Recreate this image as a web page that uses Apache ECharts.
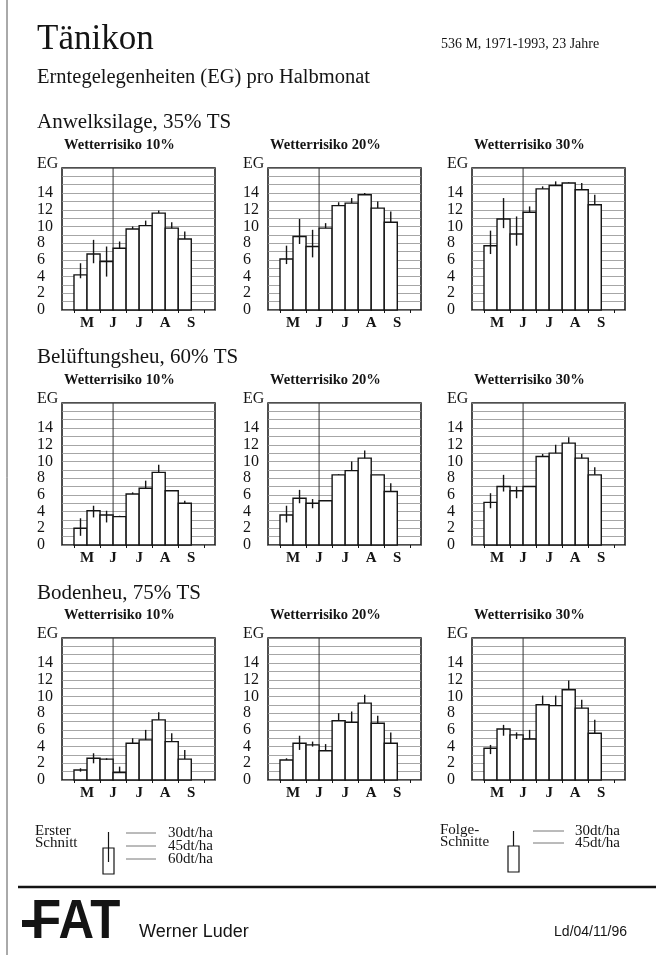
<!DOCTYPE html>
<html>
<head>
<meta charset="utf-8">
<script src="https://cdn.jsdelivr.net/npm/echarts@6/dist/echarts.min.js"></script>
<style>
html,body{margin:0;padding:0;background:#fff;}
#chart{width:660px;height:955px;}
</style>
</head>
<body>
<div id="chart"></div>
<script>
// ---------- data ----------
const monthLabels = ['M', 'J', 'J', 'A', 'S'];
const monthCenters = [1, 3, 5, 7, 9];
const monthEdges = [0, 2, 4, 6, 8, 10];
const yTickLabels = [0, 2, 4, 6, 8, 10, 12, 14];
const cutDivider = 3; // Erster Schnitt | Folge-Schnitte

const sectionTitles = ['Anwelksilage, 35% TS', 'Belüftungsheu, 60% TS', 'Bodenheu, 75% TS'];
const riskTitles = ['Wetterrisiko 10%', 'Wetterrisiko 20%', 'Wetterrisiko 30%'];

// bar = 45 dt/ha, hi = 30 dt/ha, lo = 60 dt/ha (first cut only)
const silage10   = [4.2, 6.7, 5.8, 7.4, 9.7, 10.1, 11.6, 9.8, 8.5];
const silage10Hi = [5.6, 8.4, 7.6, 8.2, 10.0, 10.7, 11.9, 10.5, 9.4];
const silage10Lo = [3.8, 5.6, 4.0];
const silage20   = [6.1, 8.8, 7.6, 9.8, 12.5, 12.8, 13.8, 12.2, 10.5];
const silage20Hi = [7.7, 10.9, 9.6, 10.4, 12.9, 13.4, 14.0, 13.0, 11.8];
const silage20Lo = [5.5, 7.9, 6.3];
const silage30   = [7.7, 10.9, 9.1, 11.7, 14.5, 14.9, 15.2, 14.4, 12.6];
const silage30Hi = [9.5, 13.4, 11.2, 12.4, 14.8, 15.4, 15.3, 15.2, 13.8];
const silage30Lo = [6.7, 9.8, 7.7];

const hay10   = [2.0, 4.1, 3.6, 3.4, 6.1, 6.8, 8.7, 6.5, 5.0];
const hay10Hi = [3.2, 4.7, 4.1, 3.5, 6.3, 7.7, 9.6, 6.5, 5.3];
const hay10Lo = [1.1, 3.3, 2.7];
const hay20   = [3.6, 5.6, 5.0, 5.3, 8.4, 8.9, 10.4, 8.4, 6.4];
const hay20Hi = [4.7, 6.6, 5.5, 5.3, 8.5, 10.0, 11.3, 8.4, 7.4];
const hay20Lo = [2.7, 5.0, 4.4];
const hay30   = [5.1, 7.0, 6.5, 7.0, 10.6, 11.0, 12.2, 10.4, 8.4];
const hay30Hi = [6.2, 8.4, 7.0, 7.0, 10.9, 12.0, 12.9, 10.9, 9.3];
const hay30Lo = [4.4, 6.4, 5.6];

const ground10   = [1.2, 2.6, 2.5, 0.9, 4.4, 4.8, 7.2, 4.6, 2.5];
const ground10Hi = [1.4, 3.2, 2.6, 1.6, 5.0, 6.0, 8.1, 5.6, 3.6];
const ground10Lo = [1.0, 2.0, 2.4];
const ground20   = [2.4, 4.4, 4.2, 3.5, 7.1, 6.9, 9.2, 6.8, 4.4];
const ground20Hi = [2.6, 5.3, 4.6, 4.3, 8.0, 8.2, 10.2, 7.7, 5.7];
const ground20Lo = [2.4, 3.6, 4.0];
const ground30   = [3.8, 6.1, 5.4, 4.9, 9.0, 8.9, 10.8, 8.6, 5.6];
const ground30Hi = [4.2, 6.6, 5.7, 6.0, 10.1, 10.1, 11.9, 9.6, 7.2];
const ground30Lo = [3.1, 5.3, 4.9];

const panelData = [
  [silage10, silage10Hi, silage10Lo], [silage20, silage20Hi, silage20Lo], [silage30, silage30Hi, silage30Lo],
  [hay10, hay10Hi, hay10Lo], [hay20, hay20Hi, hay20Lo], [hay30, hay30Hi, hay30Lo],
  [ground10, ground10Hi, ground10Lo], [ground20, ground20Hi, ground20Lo], [ground30, ground30Hi, ground30Lo]
];

// ---------- layout ----------
const colLeft = [62, 268, 472];
const rowTop = [168, 403, 638];
const gridW = 153, gridH = 142;
const yMax = 17, xMin = -0.92, xMax = 10.82;
const SERIF = '"Liberation Serif", "DejaVu Serif", serif';
const SANS = '"Liberation Sans", Arial, sans-serif';
const INK = '#141414';

const grids = [], xAxes = [], yAxes = [], series = [], graphics = [];

function txt(x, y, text, size, opts) {
  opts = opts || {};
  graphics.push({
    type: 'text', x: x, y: y, silent: true,
    scaleX: opts.scaleX || 1,
    style: {
      text: text,
      font: (opts.weight || 'normal') + ' ' + size + 'px ' + (opts.family || SERIF),
      fill: opts.fill || INK,
      textAlign: opts.align || 'left',
      textVerticalAlign: 'middle'
    }
  });
}

function renderBar(params, api) {
  const i = api.value(0), v = api.value(1), hi = api.value(2), lo = api.value(3);
  const p0 = api.coord([i, 0]);
  const p1 = api.coord([i + 1, v]);
  const cx = api.coord([i + 0.5, 0])[0];
  const yHi = api.coord([i, hi])[1];
  const yLo = api.coord([i, lo])[1];
  return {
    type: 'group',
    children: [
      { type: 'rect', shape: { x: p0[0], y: p1[1], width: p1[0] - p0[0], height: p0[1] - p1[1] },
        style: { fill: '#fff', stroke: INK, lineWidth: 1.4 } },
      { type: 'line', shape: { x1: cx, y1: yLo, x2: cx, y2: yHi },
        style: { stroke: INK, lineWidth: 1.4 } }
    ]
  };
}

for (let k = 0; k < 9; k++) {
  const r = Math.floor(k / 3), c = k % 3;
  grids.push({ left: colLeft[c], top: rowTop[r], width: gridW, height: gridH,
    show: true, borderColor: INK, borderWidth: 1.5, backgroundColor: 'transparent' });
  xAxes.push({
    type: 'value', gridIndex: k, min: xMin, max: xMax,
    axisLine: { show: false }, splitLine: { show: false },
    axisTick: { show: true, customValues: monthEdges, length: 3, lineStyle: { color: INK, width: 1 } },
    axisLabel: { customValues: monthCenters, margin: 6,
      formatter: function (v) { const j = monthCenters.indexOf(v); return j >= 0 ? monthLabels[j] : ''; },
      fontFamily: SERIF, fontSize: 15, fontWeight: 'bold', color: INK }
  });
  yAxes.push({
    type: 'value', gridIndex: k, min: 0, max: yMax, interval: 1,
    axisLine: { show: false }, axisTick: { show: false },
    splitLine: { show: true, lineStyle: { color: '#8f8f8f', width: 0.8 } },
    axisLabel: { margin: 25, align: 'left',
      formatter: function (v) { return yTickLabels.indexOf(v) >= 0 ? String(v) : ''; },
      fontFamily: SERIF, fontSize: 16, color: INK }
  });
  const d = panelData[k];
  const rows = d[0].map(function (v, i) {
    return [i, v, d[1][i], i < d[2].length ? d[2][i] : v];
  });
  series.push({
    type: 'line', xAxisIndex: k, yAxisIndex: k, silent: true, z: 1,
    symbol: 'none', lineStyle: { color: '#333', width: 1 },
    data: [[cutDivider, 0], [cutDivider, yMax]]
  });
  series.push({
    type: 'custom', xAxisIndex: k, yAxisIndex: k, z: 3, silent: true,
    renderItem: renderBar, encode: { x: 0, y: [1, 2] }, data: rows
  });
  // panel texts
  txt(colLeft[c] + 2, rowTop[r] - 23, riskTitles[c], 14.5, { weight: 'bold' });
  txt(colLeft[c] - 25, rowTop[r] - 4, 'EG', 16);
}

// headings
txt(37, 40, 'Tänikon', 35);
txt(441, 44, '536 M, 1971-1993, 23 Jahre', 15, { scaleX: 0.93 });
txt(37, 78, 'Erntegelegenheiten (EG) pro Halbmonat', 20.5);
txt(37, 122, sectionTitles[0], 21);
txt(37, 357, sectionTitles[1], 21);
txt(37, 593, sectionTitles[2], 21);

// legend: Erster Schnitt
txt(35, 831, 'Erster', 15);
txt(35, 843, 'Schnitt', 15);
graphics.push({ type: 'rect', shape: { x: 103, y: 848, width: 11, height: 26 }, style: { fill: '#fff', stroke: INK, lineWidth: 1.2 } });
graphics.push({ type: 'line', shape: { x1: 108.5, y1: 832, x2: 108.5, y2: 862 }, style: { stroke: INK, lineWidth: 1.2 } });
[833, 846, 859].forEach(function (y, j) {
  graphics.push({ type: 'line', shape: { x1: 126, y1: y, x2: 156, y2: y }, style: { stroke: '#777', lineWidth: 1 } });
  txt(168, y, ['30dt/ha', '45dt/ha', '60dt/ha'][j], 15);
});
// legend: Folge-Schnitte
txt(440, 830, 'Folge-', 15);
txt(440, 842, 'Schnitte', 15);
graphics.push({ type: 'rect', shape: { x: 508, y: 846, width: 11, height: 26 }, style: { fill: '#fff', stroke: INK, lineWidth: 1.2 } });
graphics.push({ type: 'line', shape: { x1: 513.5, y1: 831, x2: 513.5, y2: 846 }, style: { stroke: INK, lineWidth: 1.2 } });
[831, 843].forEach(function (y, j) {
  graphics.push({ type: 'line', shape: { x1: 533, y1: y, x2: 564, y2: y }, style: { stroke: '#777', lineWidth: 1 } });
  txt(575, y, ['30dt/ha', '45dt/ha'][j], 15);
});

// footer
graphics.push({ type: 'line', shape: { x1: 18, y1: 887, x2: 656, y2: 887 }, style: { stroke: INK, lineWidth: 2.5 } });
graphics.push({ type: 'line', shape: { x1: 7, y1: 0, x2: 7, y2: 955 }, style: { stroke: '#555', lineWidth: 1 } });
graphics.push({ type: 'rect', shape: { x: 22, y: 920, width: 14, height: 7 }, style: { fill: INK } });
txt(31, 923, 'FAT', 56, { weight: '900', family: SANS, scaleX: 0.88 });
txt(139, 932, 'Werner Luder', 18, { family: SANS });
txt(627, 932, 'Ld/04/11/96', 14, { family: SANS, align: 'right' });

const chart = echarts.init(document.getElementById('chart'), null, { renderer: 'canvas' });
chart.setOption({
  animation: false,
  backgroundColor: '#fff',
  grid: grids, xAxis: xAxes, yAxis: yAxes, series: series, graphic: graphics
});
</script>
</body>
</html>
